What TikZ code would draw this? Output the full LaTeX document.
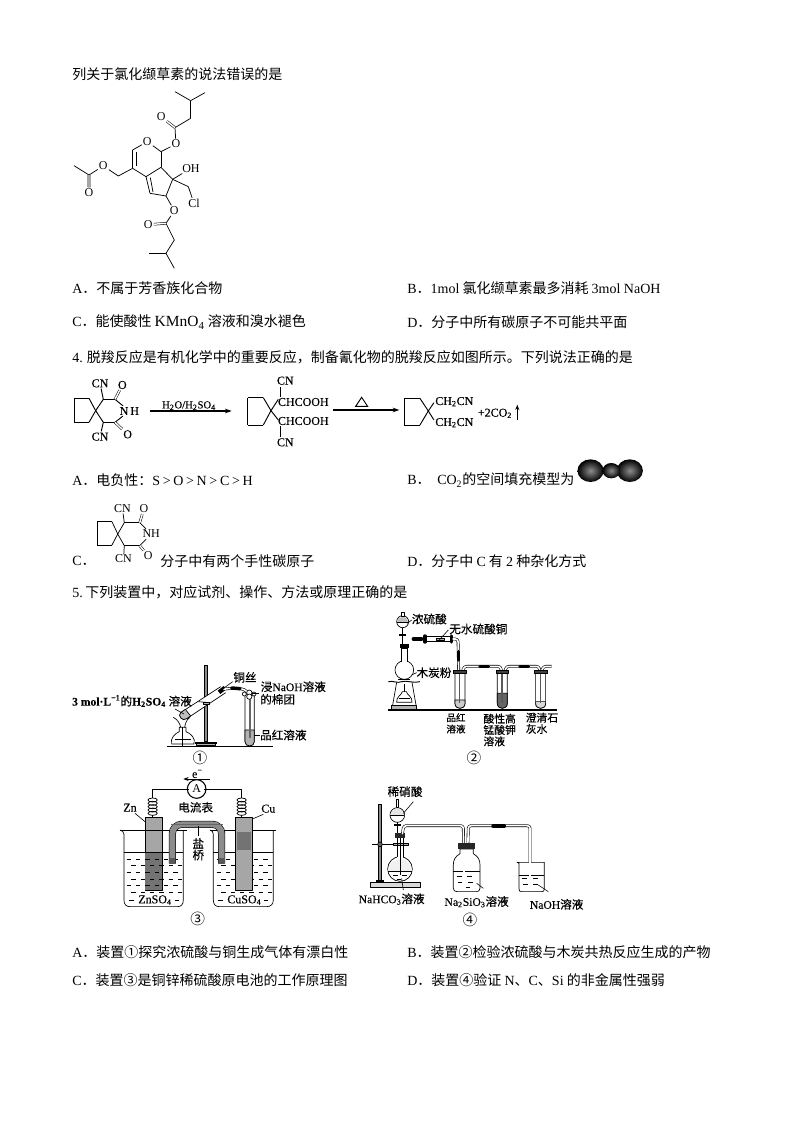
\documentclass[tikz,border=0pt]{standalone}
\usepackage{fontspec}
\setmainfont{Noto Sans CJK SC}
\newfontfamily\lat{Liberation Serif}
\newfontfamily\latb[FakeBold=0.25]{Liberation Serif}
\newfontfamily\cjkb[FakeBold=0.3]{Noto Sans CJK SC}
\usetikzlibrary{calc,arrows.meta}
\newcommand{\en}[1]{{\lat #1}}
\newcommand{\enb}[1]{{\latb #1}}
\newcommand{\xb}[1]{\textsubscript{#1}}
\tikzset{
  txt/.style={anchor=west,inner sep=0pt,font=\fontsize{10.5}{12}\selectfont},
  lab/.style={inner sep=0pt,font=\fontsize{8.7}{10}\selectfont\cjkb},
  labs/.style={inner sep=0pt,align=left,font=\fontsize{8.1}{8.5}\selectfont\cjkb},
  num/.style={inner sep=0pt,font=\fontsize{11}{12}\selectfont},
  atom/.style={inner sep=.7pt,font=\fontsize{9}{10}\selectfont\lat},
  atomb/.style={inner sep=.7pt,font=\fontsize{9}{10}\selectfont\latb},
  bond/.style={line width=.55pt,line join=round},
  sbond/.style={line width=.7pt,line join=round},
  dbond/.style={double,double distance=1.1pt,line width=.4pt},
  arr/.style={line width=.9pt,-{Stealth[length=5pt,width=3.5pt]}},
  lead/.style={line width=.45pt},
  tube/.style={double=white,draw=black,line width=.45pt,double distance=1.2pt,line join=round,rounded corners=2pt},
  rub/.style={line width=2.6pt,line cap=round,black},
  glass/.style={line width=.5pt,draw=black,line join=round},
  bench/.style={line width=1pt},
  ballg/.style={inner color=black!45,outer color=black},
}
\begin{document}
\begin{tikzpicture}[x=0.75pt,y=-0.75pt]
\useasboundingbox (0,0) rectangle (794,1123);
\fill[white] (0,0) rectangle (794,1123);

% ---------- text
\node[txt] (q3) at (72,74) {列关于氯化缬草素的说法错误的是};
\node[txt] (q3a) at (72,288) {\en{A}．不属于芳香族化合物};
\node[txt] (q3b) at (407,288) {\en{B}．\en{1mol} 氯化缬草素最多消耗 \en{3mol NaOH}};
\node[txt] (q3c) at (72,322) {\en{C}．能使酸性 {\fontsize{11.6}{12}\selectfont\en{KMnO\xb{4}}} 溶液和溴水褪色};
\node[txt] (q3d) at (407,322) {\en{D}．分子中所有碳原子不可能共平面};
\node[txt] (q4) at (72,357) {\en{4.}\hspace{3pt}脱羧反应是有机化学中的重要反应，制备氰化物的脱羧反应如图所示。下列说法正确的是};
\node[txt] (q4a) at (72,480) {\en{A}．电负性：\en{S\hspace{2pt}>\hspace{2pt}O\hspace{2pt}>\hspace{2pt}N\hspace{2pt}>\hspace{2pt}C\hspace{2pt}>\hspace{2pt}H}};
\node[txt] (q4b) at (407,480) {\en{B}．\hspace{5pt}\en{CO\xb{2}}的空间填充模型为};
\node[txt] (q4c) at (72,561) {\en{C}．};
\node[txt] (q4c2) at (160,561) {分子中有两个手性碳原子};
\node[txt] (q4d) at (407,561) {\en{D}．分子中 \en{C} 有 \en{2} 种杂化方式};
\node[txt] (q5) at (72,592) {\en{5.}\hspace{2pt}下列装置中，对应试剂、操作、方法或原理正确的是};
\node[txt] (q5a) at (72,952) {\en{A}．装置①探究浓硫酸与铜生成气体有漂白性};
\node[txt] (q5b) at (407,952) {\en{B}．装置②检验浓硫酸与木炭共热反应生成的产物};
\node[txt] (q5c) at (72,980) {\en{C}．装置③是铜锌稀硫酸原电池的工作原理图};
\node[txt] (q5d) at (407,980) {\en{D}．装置④验证 \en{N}、\en{C}、\en{Si} 的非金属性强弱};

% ---------- molecule of question 3
\begin{scope}[shift={(60,60)},scale=0.3333]
\foreach \n/\p in {a/{345,95},b/{392,122},c/{435,98},d/{392,175},e/{345,203},f/{303,275},g/{218,270},h/{218,325},i/{258,350},j/{303,322},k/{338,358},l/{318,408},m/{270,400},n/{385,380},o/{318,490},p/{343,540},q/{318,580},r/{268,580},s/{343,625},t/{175,348},u/{87,345},v/{42,317}}
  \coordinate (m\n) at (\p);
\node[atom] (oa) at (304,171) {O};
\node[atom] (ob) at (348,252) {O};
\node[atom] (oc) at (262,245) {O};
\node[atom] (od) at (343,452) {O};
\node[atom] (oe) at (265,494) {O};
\node[atom] (of) at (130,318) {O};
\node[atom] (og) at (87,398) {O};
\node[atom] (oh) at (393,325) {OH};
\node[atom] (cl) at (402,430) {Cl};
\foreach \a/\b in {ma/mb,mb/mc,mb/md,md/me,me/ob,ob/mf,mf/oc,oc/mg,mh/mi,mi/mj,mj/mf,mj/mk,mk/ml,ml/mm,mm/mi,mg/mh,mk/mn,mn/cl,mk/oh,ml/od,od/mo,mo/mp,mp/mq,mq/mr,mq/ms,mh/mt,mt/of,of/mu,mu/mv}
  \draw[bond] (\a)--(\b);
\draw[dbond] (me)--(oa);
\draw[dbond] (mo)--(oe);
\draw[dbond] (mu)--(og);
\draw[bond] ($(mg)+(11,6)$)--($(mh)+(11,-7)$);
\draw[bond] ($(mi)+(13,3)$)--($(mm)+(9,-4)$);
\end{scope}

% ---------- reaction scheme of question 4
\begin{scope}[shift={(60,340)},scale=0.3333]
\foreach \n/\p in {a/{43,175},b/{87,175},c/{107,212},d/{87,247},e/{43,247},f/{130,178},g/{165,178},h/{165,247},i/{130,247}}
  \coordinate (s\n) at (\p);
\node[atomb] (sN) at (208,213) {N\,H};
\node[atomb] (sc1) at (120,130) {CN};
\node[atomb] (sc2) at (120,290) {CN};
\node[atomb] (so1) at (187,135) {O};
\node[atomb] (so2) at (203,283) {O};
\foreach \a/\b in {sa/sb,sb/sc,sc/sd,sd/se,se/sa,sc/sf,sf/sg,sc/si,si/sh,sg/sN,sh/sN,sf/sc1,si/sc2}
  \draw[sbond] (\a)--(\b);
\draw[dbond] (sg)--(so1);
\draw[dbond] (sh)--(so2);
\coordinate (a1s) at (270,213); \coordinate (a1e) at (515,213);
\draw[arr] (a1s)--(a1e);
\node[inner sep=0pt,font=\fontsize{8}{9}\selectfont\latb] (a1t) at (387,197) {H\xb{2}O/H\xb{2}SO\xb{4}};
\foreach \n/\p in {a/{563,173},b/{610,173},c/{633,212},d/{610,255},e/{563,255},f/{655,178},g/{655,240}}
  \coordinate (u\n) at (\p);
\node[atomb,inner sep=0pt] (uh1) at (730,186) {CHCOOH};
\node[atomb,inner sep=0pt] (uh2) at (730,243) {CHCOOH};
\node[atomb] (uc1) at (676,122) {CN};
\node[atomb] (uc2) at (676,307) {CN};
\coordinate (up1) at (660,170); \coordinate (up2) at (660,140);
\coordinate (up3) at (660,258); \coordinate (up4) at (660,290);
\foreach \a/\b in {ua/ub,ub/uc,uc/ud,ud/ue,ue/ua,uc/uf,uc/ug,up1/up2,up3/up4}
  \draw[sbond] (\a)--(\b);
\coordinate (a2s) at (820,210); \coordinate (a2e) at (1018,210);
\draw[arr] (a2s)--(a2e);
\coordinate (t1) at (887,199); \coordinate (t2) at (923,199); \coordinate (t3) at (905,172);
\draw[line width=.7pt] (t1)--(t2)--(t3)--cycle;
\foreach \n/\p in {a/{1033,175},b/{1080,175},c/{1105,213},d/{1080,255},e/{1033,255},f/{1122,188},g/{1122,240}}
  \coordinate (w\n) at (\p);
\node[atomb,inner sep=0pt] (wh1) at (1183,185) {CH\xb{2}CN};
\node[atomb,inner sep=0pt] (wh2) at (1183,248) {CH\xb{2}CN};
\node[atomb,inner sep=0pt] (wco) at (1305,220) {+2CO\xb{2}};
\foreach \a/\b in {wa/wb,wb/wc,wc/wd,wd/we,we/wa,wc/wf,wc/wg}
  \draw[sbond] (\a)--(\b);
\coordinate (up5) at (1372,240); \coordinate (up6) at (1372,194);
\draw[line width=.7pt,-{Stealth[length=4pt,width=3pt]}] (up5)--(up6);
\end{scope}

% ---------- CO2 model and small molecule of option C
\begin{scope}[shift={(60,455)},xscale=0.385,yscale=0.3333]
\shade[ballg] (1378,47) circle[radius=34];
\shade[ballg] (1480,47) circle[radius=34];
\shade[ballg] (1432,47) circle[radius=23];
\foreach \n/\p in {a/{97,200},b/{135,200},c/{150,237},d/{135,270},e/{97,270},f/{167,203},g/{207,203},h/{207,272},i/{167,272}}
  \coordinate (c\n) at (\p);
\node[atom] (cN) at (237,237) {NH};
\node[atom] (cc1) at (162,160) {CN};
\node[atom] (cc2) at (165,312) {CN};
\node[atom] (co1) at (218,162) {O};
\node[atom] (co2) at (229,302) {O};
\foreach \a/\b in {ca/cb,cb/cc,cc/cd,cd/ce,ce/ca,cc/cf,cf/cg,cc/ci,ci/ch,cg/cN,ch/cN,cf/cc1,ci/cc2}
  \draw[bond] (\a)--(\b);
\draw[dbond] (cg)--(co1);
\draw[dbond] (ch)--(co2);
\end{scope}

% ---------- apparatus 1
\begin{scope}[shift={(60,640)},scale=0.3333]
\draw[bench] (320,320)--(640,320);
\draw[glass,fill=black!45] (433,75) rectangle (441,305);
\fill[black] (405,306) rectangle (470,311);
\draw[glass,fill=black!30] (410,311) rectangle (465,317);
\draw[glass,fill=white] (335,312) .. controls (330,295) and (345,280) .. (358,275) -- (358,262) -- (378,262) -- (378,275) .. controls (392,280) and (408,295) .. (402,312) -- cycle;
\draw[glass] (345,298)--(392,298);
\draw[glass] (368,262)--(368,318);
\draw[glass] (340,232) .. controls (352,238) and (360,250) .. (362,262);
\draw[glass] (390,232) .. controls (380,238) and (376,250) .. (374,262);
\draw[glass,fill=white] (482,140) -- (362,218) .. controls (352,228) and (368,245) .. (380,236) -- (497,158);
\draw[glass,fill=black!25] (362,218) .. controls (352,228) and (368,245) .. (380,236) -- (392,228) -- (376,208) -- cycle;
\draw[glass] (415,185)--(438,187);
\draw[glass,fill=black!30] (430,188) rectangle (447,194);
\draw[line width=3.2pt] (477,157)--(495,143);
\draw[tube] (490,148)--(510,145)--(545,146)--(560,152)--(568,175);
\draw[rub] (515,144)--(540,146);
\draw[glass] (555,165)--(555,305) .. controls (555,322) and (583,322) .. (583,305) -- (583,165);
\draw[glass,fill=black!30] (555,270) -- (555,305) .. controls (555,322) and (583,322) .. (583,305) -- (583,270) -- cycle;
\draw[line width=1.5pt,black!60] (569,175)--(569,295);
\draw[glass,fill=white] (553,162) circle[radius=6];
\draw[glass,fill=white] (582,162) circle[radius=6];
\draw[glass,fill=white] (568,158) circle[radius=8];
\draw[glass,fill=white] (568,170) circle[radius=8];
\draw[lead] (345,207)--(372,222);
\draw[lead] (518,125)--(488,147);
\draw[lead] (575,160)--(598,160);
\draw[lead] (583,285)--(600,285);
\node[lab] (l1a) at (216,183) {\enb{\bfseries 3 mol·L\textsuperscript{−1}}的\enb{\bfseries H\xb{2}SO\xb{4}} 溶液};
\node[lab] (l1b) at (555,112) {铜丝};
\node[lab] (l1c) at (700,140) {浸\enb{NaOH}溶液};
\node[lab] (l1d) at (653,178) {的棉团};
\node[lab] (l1e) at (670,285) {品红溶液};
\node[num] (l1n) at (420,353) {①};
\end{scope}

% ---------- apparatus 2
\begin{scope}[shift={(370,605)},scale=0.3333]
\draw[bench] (55,315)--(560,315);
% funnel
\draw[glass,fill=white] (98,50) circle[radius=18];
\fill[black!25] (81,52) arc[start angle=180,end angle=360,radius=17] -- cycle;
\draw[glass] (81,52)--(115,52);
\draw[glass,fill=white] (94,22) rectangle (102,33);
\draw[glass] (98,68)--(98,118);
\draw[line width=1.1pt] (88,90)--(108,90);
% flask
\draw[glass,fill=white] (93,170) -- (93,130) -- (113,130) -- (113,170) -- cycle;
\draw[glass,fill=white] (103,195) circle[radius=28];
\fill[white] (94,160) rectangle (112,172);
\draw[glass] (94,130)--(94,170) (112,130)--(112,170);
\fill[black] (90,118) rectangle (116,130);
\draw[glass] (85,222)--(121,222);
% gauze and lamp
\draw[line width=.7pt] (55,230) .. controls (70,226) and (80,236) .. (95,230) .. controls (110,225) and (130,236) .. (150,230);
\draw[glass] (80,232)--(68,300) (126,232)--(138,300);
\draw[glass,fill=white] (80,292) .. controls (78,275) and (95,270) .. (97,260) -- (109,260) .. controls (111,270) and (128,275) .. (126,292) -- cycle;
\draw[glass] (103,238)--(103,260) (86,280)--(120,280);
\draw[glass,fill=black!30] (65,300) rectangle (140,313);
% connecting tubes
\draw[tube] (108,102)--(165,102);
\draw[rub] (130,102)--(155,102);
\draw[glass,fill=white] (170,94) rectangle (240,110);
\draw[glass,fill=black!30] (200,99) rectangle (222,105);
\draw[rub] (165,93)--(165,111);
\draw[rub] (245,93)--(245,111);
\draw[tube] (248,102)--(264,102)--(266,195);
\draw[rub] (265,140)--(265,165);
\draw[tube] (278,198)--(282,184)--(392,184)--(394,198);
\draw[rub] (330,184)--(355,184);
\draw[tube] (405,198)--(409,184)--(507,184)--(510,198);
\draw[rub] (450,184)--(475,184);
\draw[tube] (515,198)--(520,184)--(545,184);
% test tubes
\foreach \x/\lv/\c in {255/285/20,382/265/60,497/290/15}{
  \draw[glass,fill=white] (\x,205) -- (\x,295) .. controls (\x,315) and (\x+30,315) .. (\x+30,295) -- (\x+30,205) -- cycle;
  \draw[glass,fill=black!\c] (\x,\lv) -- (\x,295) .. controls (\x,315) and (\x+30,315) .. (\x+30,295) -- (\x+30,\lv) -- cycle;
  \draw[line width=1.2pt,black!65] (\x+14,205)--(\x+14,295);
  \draw[glass,fill=black!75] (\x-4,196) rectangle (\x+34,205);
}
\draw[lead] (125,45)--(112,55);
\draw[lead] (235,75)--(205,108);
\draw[lead] (140,203)--(125,210);
\node[lab] (l2a) at (178,42) {浓硫酸};
\node[lab] (l2b) at (325,72) {无水硫酸铜};
\node[lab] (l2c) at (192,203) {木炭粉};
\node[labs,font=\fontsize{7.2}{8.5}\selectfont\cjkb] (l2d) at (258,355) {品红\\溶液};
\node[labs] (l2e) at (389,375) {酸性高\\锰酸钾\\溶液};
\node[labs] (l2f) at (516,355) {澄清石\\灰水};
\node[num] (l2n) at (312,460) {②};
\end{scope}

% ---------- apparatus 3
\begin{scope}[shift={(100,765)},scale=0.3333]
% plate Zn
\draw[glass,fill=black!35] (135,157) rectangle (187,375);
\fill[black!55] (136,265) rectangle (186,374);
% beakers
\draw[glass] (60,195) .. controls (66,197) and (72,200) .. (72,208) -- (72,405) .. controls (72,418) and (78,425) .. (90,425) -- (232,425) .. controls (244,425) and (250,418) .. (250,405) -- (250,195);
\draw[glass] (60,195)--(262,195);
\draw[glass] (330,195) .. controls (336,197) and (340,200) .. (340,208) -- (340,405) .. controls (340,418) and (346,425) .. (358,425) -- (500,425) .. controls (512,425) and (520,418) .. (520,405) -- (520,195);
\draw[glass] (330,195)--(528,195);
\draw[glass] (72,262)--(250,262) (340,262)--(520,262);
\foreach \y/\o in {282/0,302/14,322/0,342/14,362/0,382/14}{
  \foreach \x in {80,108,...,232} \draw[line width=.55pt] (\x+\o,\y)--(\x+\o+13,\y);
  \foreach \x in {350,378,...,492} \draw[line width=.55pt] (\x+\o,\y)--(\x+\o+13,\y);
}
\foreach \x in {88,225,355,492} \draw[line width=.55pt] (\x,405)--(\x+13,405);
% plate Cu
\draw[glass,fill=black!35] (407,157) rectangle (457,375);
\fill[black!55] (412,200) rectangle (452,255);
% salt bridge
\draw[double=black!45,draw=black,line width=.45pt,double distance=4.4pt,rounded corners=7pt] (217,296)--(217,178)--(365,178)--(365,296);
\fill[black!65] (210,278) rectangle (224,296);
\fill[black!65] (358,278) rectangle (372,296);
\fill[black!60] (212,176) rectangle (370,180);
% wires and coils
\draw[bond] (158,100)--(158,72)--(268,72);
\draw[bond] (312,72)--(425,72)--(425,100);
\foreach \y in {105,115,125,135,145}{
  \draw[bond] (158,\y) ellipse[x radius=14,y radius=6];
  \draw[bond] (425,\y) ellipse[x radius=14,y radius=6];
}
\draw[line width=.7pt] (158,150)--(158,157) (425,150)--(425,157);
\node[draw,circle,line width=.8pt,minimum size=14pt,inner sep=0pt,font=\fontsize{9}{10}\selectfont\lat] (amp) at (290,72) {A};
\coordinate (e1) at (330,42); \coordinate (e2) at (250,42);
\draw[line width=.55pt,-{Stealth[length=4pt,width=3pt]}] (e1)--(e2);
\draw[lead] (105,145)--(135,170);
\draw[lead] (490,148)--(457,162);
\draw[lead] (295,184)--(295,212);
\node[atomb] (l3e) at (292,27) {e\textsuperscript{−}};
\node[lab] (l3a) at (287,127) {电流表};
\node[atomb] (l3b) at (90,128) {Zn};
\node[atomb] (l3c) at (505,131) {Cu};
\node[lab] (l3d) at (295,235) {盐};
\node[lab] (l3f) at (295,270) {桥};
\node[atomb,fill=white,inner sep=1pt] (l3g) at (165,405) {ZnSO\xb{4}};
\node[atomb,fill=white,inner sep=1pt] (l3h) at (433,405) {CuSO\xb{4}};
\node[num] (l3n) at (293,463) {③};
\end{scope}

% ---------- apparatus 4
\begin{scope}[shift={(345,775)},scale=0.3333]
\draw[glass,fill=black!45] (101,88) rectangle (109,318);
\draw[glass,fill=black!15] (77,322) rectangle (225,338);
\fill[black] (92,316) rectangle (118,324);
\draw[line width=1.2pt] (80,208)--(190,208);
\draw[glass,fill=black!60] (105,208) circle[radius=7];
\draw[glass,fill=black!30] (145,205) rectangle (190,212);
% flask
\draw[glass,fill=white] (165,282) circle[radius=37];
\fill[white] (157,240) rectangle (173,252);
\draw[glass] (156,190)--(156,246) (174,190)--(174,246);
\fill[black!6] (129,288) arc[start angle=180,end angle=360,radius=36] -- cycle;
\draw[glass] (129,288)--(201,288);
\draw[line width=.55pt] (145,300)--(158,300) (170,300)--(185,300) (155,312)--(168,312);
\draw[line width=.7pt] (165,190)--(165,300);
\fill[black!85] (150,175) rectangle (180,190);
% funnel
\draw[glass,fill=white] (157,120) circle[radius=22];
\fill[black!10] (136,122) arc[start angle=180,end angle=360,radius=21] -- cycle;
\draw[glass] (136,122)--(178,122);
\draw[glass,fill=white] (153,74) rectangle (161,98);
\draw[glass] (157,142)--(157,175);
\draw[line width=1.2pt] (147,150)--(167,150);
% tubes
\draw[tube] (172,178)--(176,152)--(355,152)--(357,322);
\draw[tube] (368,236)--(370,152)--(555,152)--(555,322);
\draw[rub] (444,153)--(478,153);
% bottle
\draw[glass,fill=white] (345,222) -- (345,236) .. controls (330,245) and (325,255) .. (325,270) -- (325,340) .. controls (325,347) and (330,350) .. (336,350) -- (394,350) .. controls (400,350) and (405,347) .. (405,340) -- (405,270) .. controls (405,255) and (400,245) .. (385,236) -- (385,222) -- cycle;
\draw[glass] (325,290)--(405,290);
\draw[line width=.55pt] (335,305)--(350,305) (365,305)--(380,305) (340,322)--(352,322) (370,322)--(385,322) (362,338)--(375,338);
\draw[tube] (357,225)--(357,322);
\draw[tube] (369,225)--(369,248);
\fill[black!85] (340,205) rectangle (390,222);
% beaker
\draw[glass,fill=white] (516,262) -- (522,265) -- (522,342) .. controls (522,348) and (525,350) .. (530,350) -- (590,350) .. controls (595,350) and (598,348) .. (598,342) -- (598,262) -- cycle;
\draw[glass] (522,300)--(598,300);
\draw[line width=.55pt] (530,310)--(545,310) (565,310)--(580,310) (535,328)--(550,328) (565,328)--(578,328);
\draw[tube] (555,262)--(555,322);
% leaders
\draw[lead] (175,115)--(205,80);
\draw[lead] (170,310)--(175,345);
\draw[lead] (395,325)--(415,340);
\draw[lead] (580,330)--(610,350);
\node[lab] (l4a) at (180,50) {稀硝酸};
\node[lab] (l4b) at (140,372) {\enb{NaHCO\xb{3}}溶液};
\node[lab] (l4c) at (395,380) {\enb{Na\xb{2}SiO\xb{3}}溶液};
\node[lab] (l4d) at (635,388) {\enb{NaOH}溶液};
\node[num] (l4n) at (375,435) {④};
\end{scope}
\end{tikzpicture}
\end{document}
